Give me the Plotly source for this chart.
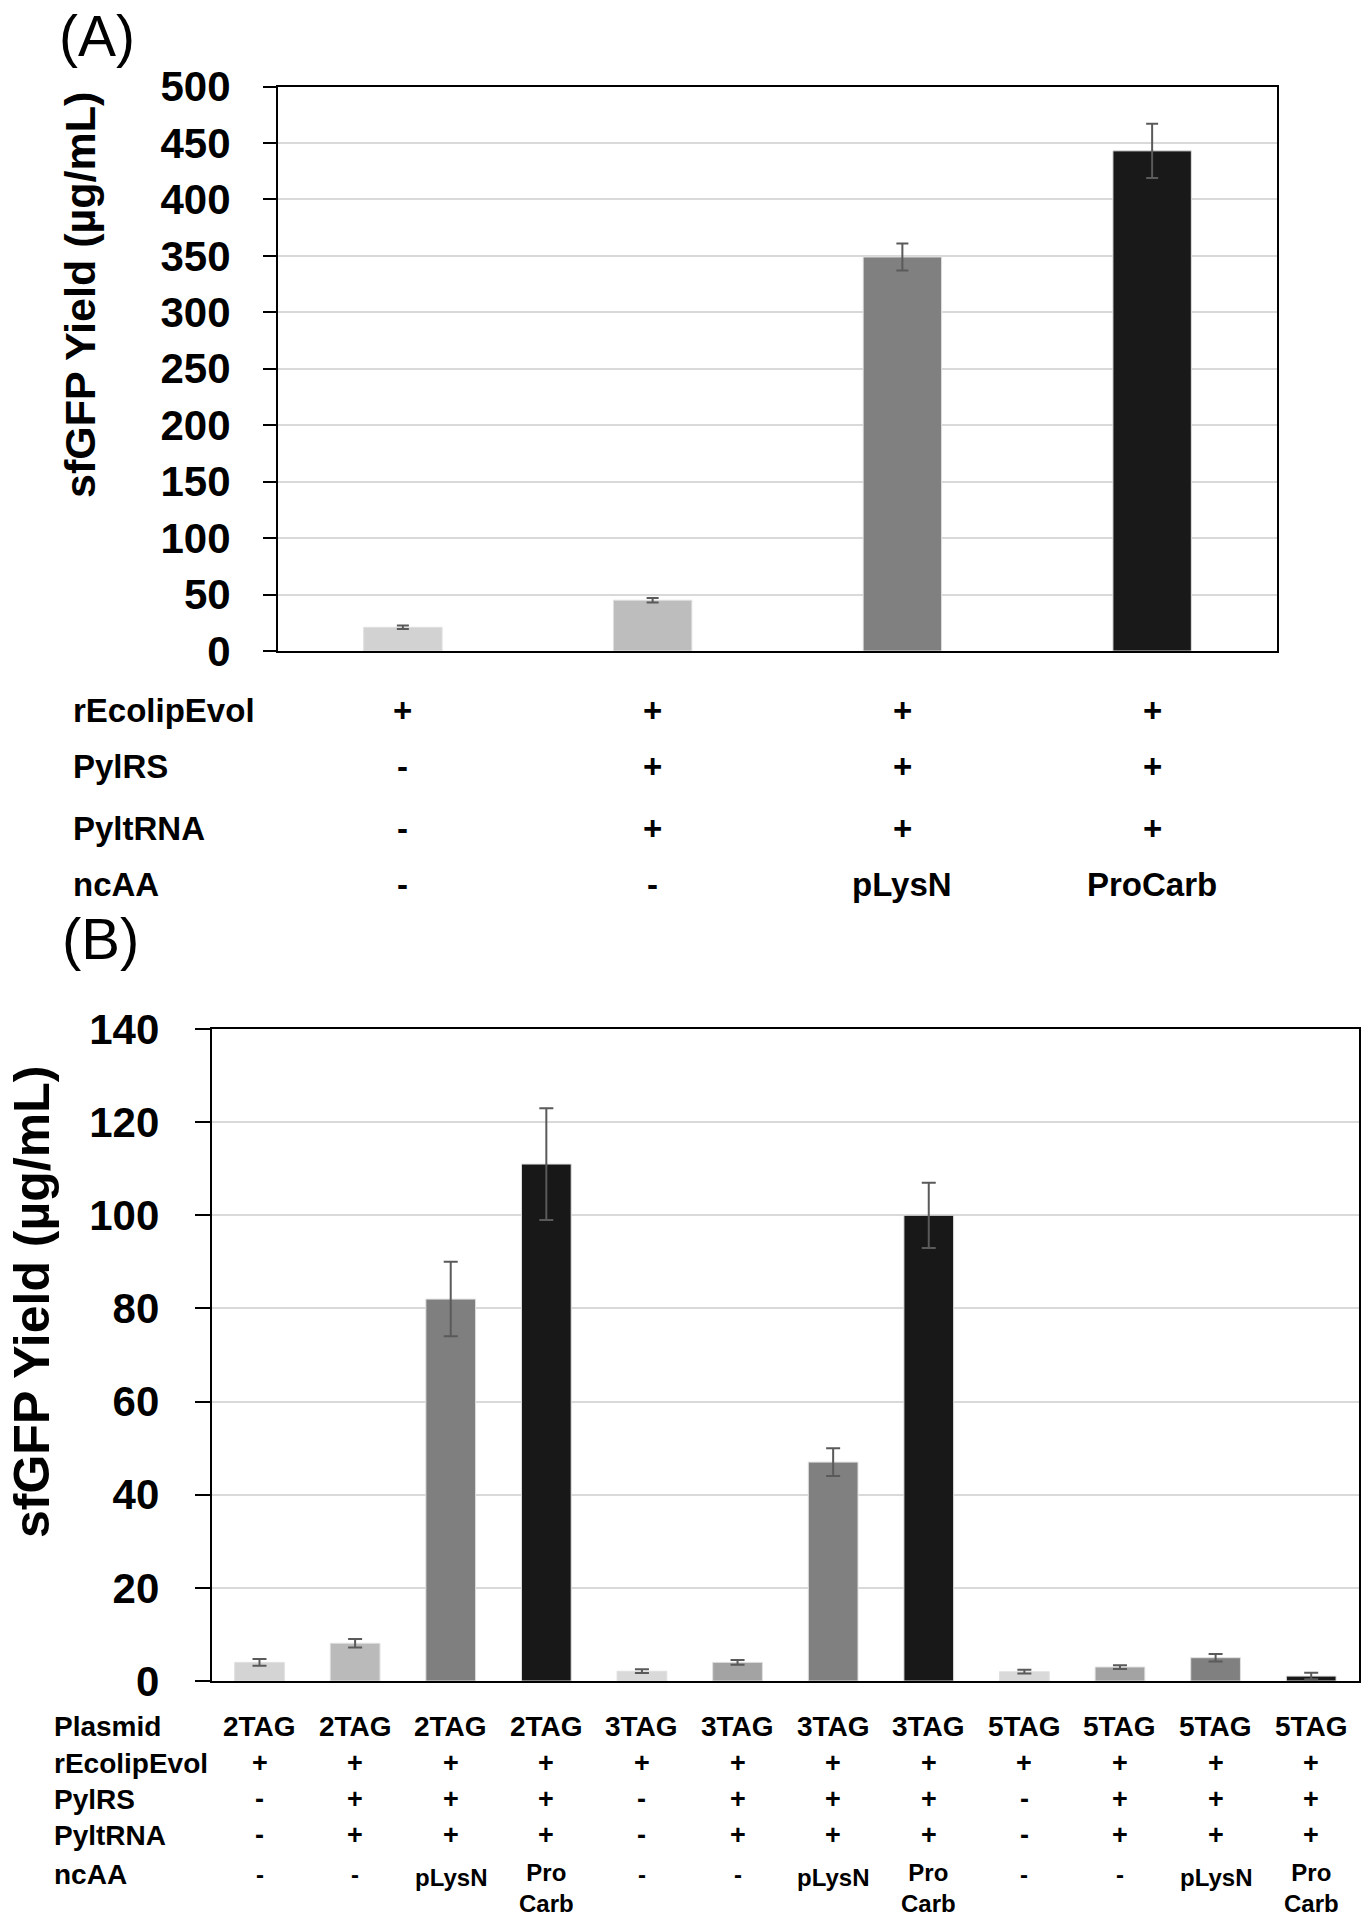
import plotly.graph_objects as go

W, H = 1371, 1920
FONT = "Liberation Sans, Arial, sans-serif"

# ---------------- Panel A data ----------------
a_cats = ["A1", "A2", "A3", "A4"]
a_yield = [21, 45, 349, 443]
a_err = [1.5, 2, 12, 24]
a_colors = ["#d2d2d2", "#bdbdbd", "#808080", "#191919"]
a_rows = ["rEcolipEvol", "PylRS", "PyltRNA", "ncAA"]
a_recolip = ["+", "+", "+", "+"]
a_pylrs = ["-", "+", "+", "+"]
a_pyltrna = ["-", "+", "+", "+"]
a_ncaa = ["-", "-", "pLysN", "ProCarb"]
a_yticks = [0, 50, 100, 150, 200, 250, 300, 350, 400, 450, 500]

# ---------------- Panel B data ----------------
b_cats = ["B%d" % i for i in range(1, 13)]
b_yield = [4, 8.1, 82, 111, 2.1, 4, 47, 100, 2, 3, 5, 1.05]
b_err = [0.7, 0.9, 8, 12, 0.4, 0.5, 3, 7, 0.4, 0.4, 0.8, 0.7]
b_colors = ["#d4d4d4", "#bababa", "#7f7f7f", "#181818",
            "#d9d9d9", "#a3a3a3", "#808080", "#181818",
            "#d9d9d9", "#a3a3a3", "#808080", "#181818"]
b_rows = ["Plasmid", "rEcolipEvol", "PylRS", "PyltRNA", "ncAA"]
b_plasmid = ["2TAG"] * 4 + ["3TAG"] * 4 + ["5TAG"] * 4
b_recolip = ["+"] * 12
b_pylrs = ["-", "+", "+", "+"] * 3
b_pyltrna = ["-", "+", "+", "+"] * 3
b_ncaa = ["-", "-", "pLysN", "Pro<br>Carb"] * 3
b_yticks = [0, 20, 40, 60, 80, 100, 120, 140]


def py(px):
    return 1 - px / H


def pxx(px):
    return px / W


fig = go.Figure()

fig.add_trace(go.Bar(
    x=a_cats, y=a_yield, width=0.314,
    marker=dict(color=a_colors, line=dict(width=1, color="#e0e0e0")),
    error_y=dict(type="data", array=a_err, visible=True, color="#5a5a5a",
                 thickness=2, width=6),
    xaxis="x", yaxis="y", showlegend=False,
))

fig.add_trace(go.Bar(
    x=b_cats, y=b_yield, width=0.52,
    marker=dict(color=b_colors, line=dict(width=1, color="#e0e0e0")),
    error_y=dict(type="data", array=b_err, visible=True, color="#5a5a5a",
                 thickness=2, width=7),
    xaxis="x2", yaxis="y2", showlegend=False,
))

axis_common = dict(showline=True, mirror=True, linecolor="black", linewidth=2,
                   zeroline=False, automargin=False)

fig.update_layout(
    width=W, height=H, autosize=False,
    margin=dict(l=0, r=0, t=0, b=0, pad=0),
    paper_bgcolor="white", plot_bgcolor="white",
    font=dict(family=FONT, color="black"),
    xaxis=dict(domain=[pxx(278), pxx(1277)], anchor="y", showticklabels=False,
               ticks="", showgrid=False, range=[-0.5, 3.5], **axis_common),
    yaxis=dict(domain=[py(651), py(86.5)], anchor="x", range=[0, 500],
               tickvals=a_yticks, ticktext=[str(v) for v in a_yticks],
               showgrid=True, gridcolor="#d9d9d9", gridwidth=2,
               ticks="outside", ticklen=13, tickwidth=2, tickcolor="black",
               ticklabelstandoff=24,
               tickfont=dict(size=42, family=FONT, weight="bold"),
               **axis_common),
    xaxis2=dict(domain=[pxx(211.7), pxx(1359)], anchor="y2", showticklabels=False,
                ticks="", showgrid=False, range=[-0.5, 11.5], **axis_common),
    yaxis2=dict(domain=[py(1681), py(1029)], anchor="x2", range=[0, 140],
                tickvals=b_yticks, ticktext=[str(v) for v in b_yticks],
                showgrid=True, gridcolor="#d9d9d9", gridwidth=2,
                ticks="outside", ticklen=15, tickwidth=2, tickcolor="black",
                ticklabelstandoff=27,
                tickfont=dict(size=42, family=FONT, weight="bold"),
                **axis_common),
)

ann = []


def text(x, y, s, size, xref="paper", bold=True, xanchor="center",
         yanchor="middle", angle=0):
    ann.append(dict(x=x, y=y, xref=xref, yref="paper", text=s, showarrow=False,
                    xanchor=xanchor, yanchor=yanchor, textangle=angle,
                    borderpad=0,
                    font=dict(size=size, family=FONT, color="black",
                              weight="bold" if bold else "normal")))


# Panel labels
text(pxx(97), py(36), "(A)", 57, bold=False)
text(pxx(100), py(938), "(B)", 58, bold=False)

# Y titles
text(pxx(80), py(295), "sfGFP Yield (µg/mL)", 43, angle=-90)
text(pxx(32), py(1302), "sfGFP Yield (µg/mL)", 50, angle=-90)

# Panel A table
a_row_y = [710, 767, 828, 884]
a_vals = [a_recolip, a_pylrs, a_pyltrna, a_ncaa]
for lbl, yy, vals in zip(a_rows, a_row_y, a_vals):
    text(pxx(72), py(yy), lbl, 33, xanchor="left")
    for c, v in zip(a_cats, vals):
        text(c, py(yy), v, 33, xref="x")

# Panel B table
b_row_y = [1726, 1763, 1799, 1835, 1874]
b_vals = [b_plasmid, b_recolip, b_pylrs, b_pyltrna, b_ncaa]
b_sizes = [28, 27, 27, 27, 24]
for lbl, yy, vals, sz in zip(b_rows, b_row_y, b_vals, b_sizes):
    text(pxx(53), py(yy), lbl, 28, xanchor="left")
    for c, v in zip(b_cats, vals):
        if "<br>" in v:
            text(c, py(1858), v, 24, xref="x2", yanchor="top")
        elif v == "pLysN":
            text(c, py(yy + 3), v, 24, xref="x2")
        else:
            text(c, py(yy), v, sz, xref="x2")

fig.update_layout(annotations=ann)
fig.write_html(
    "out.html",
    config={"displayModeBar": False},
    post_script="document.body.style.margin='0px';"
                "document.body.style.overflow='hidden';",
)
